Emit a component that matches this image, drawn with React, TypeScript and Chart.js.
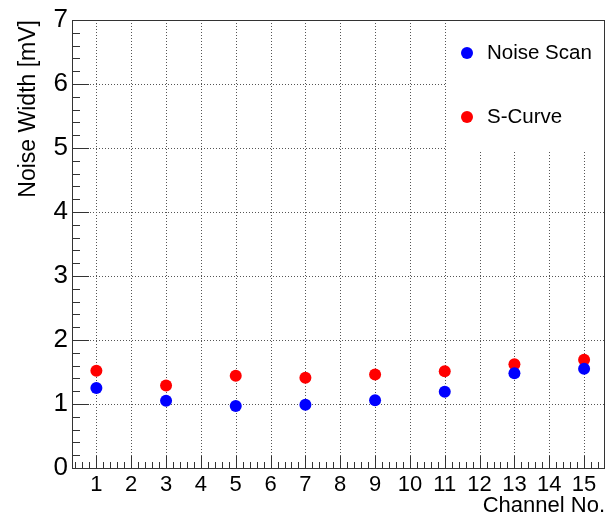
import React, { useEffect, useRef } from "react";
import { Chart, registerables } from "chart.js";

Chart.register(...registerables);

const channels = [1, 3, 5, 7, 9, 11, 13, 15];
const noiseScan = [1.25, 1.05, 0.97, 0.99, 1.06, 1.19, 1.48, 1.55];
const sCurve = [1.52, 1.29, 1.44, 1.41, 1.46, 1.51, 1.62, 1.69];
const xTickValues = [1, 2, 3, 4, 5, 6, 7, 8, 9, 10, 11, 12, 13, 14, 15];
const yTickValues = [0, 1, 2, 3, 4, 5, 6, 7];
const seriesNames = ["Noise Scan", "S-Curve"];
const seriesColors = ["#0000ff", "#ff0000"];

const FONT = "'Liberation Sans', Arial, sans-serif";

const framePlugin = {
  id: "rootFrame",
  beforeDatasetsDraw(chart: any) {
    const { ctx, chartArea, scales } = chart;
    const { left, right, top, bottom } = chartArea;
    ctx.save();
    ctx.strokeStyle = "#555";
    ctx.lineWidth = 1;
    ctx.setLineDash([1, 2]);
    ctx.beginPath();
    scales.x.ticks.forEach((t: any) => {
      const px = Math.round(scales.x.getPixelForValue(t.value)) + 0.5;
      ctx.moveTo(px, top);
      ctx.lineTo(px, bottom);
    });
    scales.y.ticks.forEach((t: any) => {
      const py = Math.round(scales.y.getPixelForValue(t.value)) + 0.5;
      ctx.moveTo(left, py);
      ctx.lineTo(right, py);
    });
    ctx.stroke();
    ctx.restore();
  },
  afterDatasetsDraw(chart: any) {
    const { ctx, chartArea } = chart;
    const { right, top } = chartArea;
    const bx = 447, by = top, bw = right - 447, bh = 129;
    ctx.save();
    ctx.fillStyle = "#ffffff";
    ctx.fillRect(bx, by + 1, bw - 1, bh);
    chart.data.datasets.forEach((ds: any, i: number) => {
      const cy = top + 33 + i * 64;
      ctx.beginPath();
      ctx.fillStyle = ds.backgroundColor;
      ctx.arc(467, cy, 6, 0, Math.PI * 2);
      ctx.fill();
      ctx.fillStyle = "#000";
      ctx.font = `20.5px ${FONT}`;
      ctx.textBaseline = "middle";
      ctx.textAlign = "left";
      ctx.fillText(ds.label, 487, cy);
    });
    ctx.restore();
  },
  afterDraw(chart: any) {
    const { ctx, chartArea, scales } = chart;
    const { left, right, top, bottom } = chartArea;
    ctx.save();
    ctx.strokeStyle = "#333";
    ctx.lineWidth = 1;
    ctx.strokeRect(left + 0.5, top + 0.5, right - left - 1, bottom - top);
    ctx.beginPath();
    const xs = scales.x;
    const ys = scales.y;
    for (let v = 0; v <= 16.001; v += 0.2) {
      const px = Math.round(xs.getPixelForValue(v)) + 0.5;
      if (px < left || px > right) continue;
      const major = Math.abs(v - Math.round(v)) < 1e-6;
      const len = major ? 12 : 6;
      ctx.moveTo(px, bottom);
      ctx.lineTo(px, bottom - len);
    }
    for (let v = 0; v <= 7.001; v += 0.2) {
      const py = Math.round(ys.getPixelForValue(v)) + 0.5;
      const major = Math.abs(v - Math.round(v)) < 1e-6;
      const len = major ? 17 : 8;
      ctx.moveTo(left, py);
      ctx.lineTo(left + len, py);
    }
    ctx.stroke();
    ctx.restore();
  },
};

export default function App() {
  const ref = useRef<HTMLCanvasElement>(null);
  useEffect(() => {
    if (!ref.current) return;
    const chart = new Chart(ref.current, {
      type: "scatter",
      data: {
        datasets: [noiseScan, sCurve].map((vals, i) => ({
          label: seriesNames[i],
          data: channels.map((c, j) => ({ x: c, y: vals[j] })),
          backgroundColor: seriesColors[i],
          borderColor: seriesColors[i],
          pointRadius: 6,
          pointHoverRadius: 6,
          borderWidth: 0,
          showLine: false,
        })),
      },
      plugins: [framePlugin],
      options: {
        animation: false,
        responsive: false,
        devicePixelRatio: 1,
        layout: { padding: { left: 0, top: 20, right: 5, bottom: 0 } },
        plugins: {
          legend: { display: false },
          tooltip: { enabled: false },
        },
        scales: {
          x: {
            type: "linear",
            min: 0.3,
            max: 15.6,
            afterBuildTicks: (s: any) => {
              s.ticks = xTickValues.map((v) => ({ value: v }));
            },
            afterFit: (s: any) => {
              s.height = 51;
            },
            grid: { display: false, drawTicks: false },
            border: { display: false },
            ticks: {
              autoSkip: false,
              maxRotation: 0,
              padding: 4,
              color: "#000",
              font: { family: FONT, size: 22 },
              callback: (v: any) => String(v),
            },
            title: {
              display: true,
              text: "Channel No.",
              align: "end",
              color: "#000",
              font: { family: FONT, size: 22 },
              padding: { top: 0, bottom: 0 },
            },
          },
          y: {
            type: "linear",
            min: 0,
            max: 7,
            afterBuildTicks: (s: any) => {
              s.ticks = yTickValues.map((v) => ({ value: v }));
            },
            afterFit: (s: any) => {
              s.width = 72;
            },
            grid: { display: false, drawTicks: false },
            border: { display: false },
            ticks: {
              padding: 4,
              color: "#000",
              font: { family: FONT, size: 26 },
              callback: (v: any) => String(v),
            },
            title: {
              display: true,
              text: "Noise Width [mV]",
              align: "end",
              color: "#000",
              font: { family: FONT, size: 23 },
              padding: { top: 15, bottom: 0 },
            },
          },
        },
      } as any,
    });
    return () => chart.destroy();
  }, []);
  return (
    <div style={{ position: "fixed", left: 0, top: 0, width: 611, height: 519, background: "#fff" }}>
      <canvas ref={ref} width={611} height={519} />
    </div>
  );
}
